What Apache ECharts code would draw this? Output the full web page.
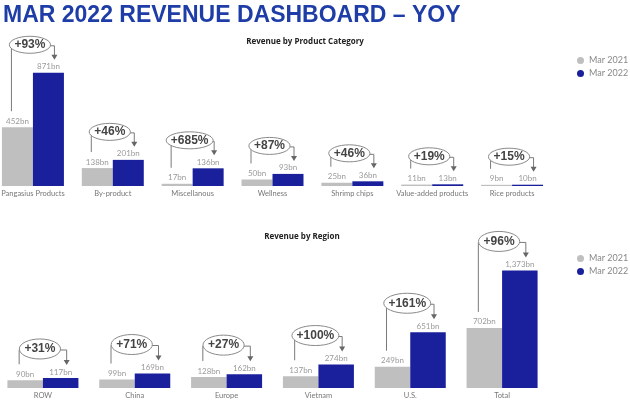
<!DOCTYPE html>
<html>
<head>
<meta charset="utf-8">
<script src="https://cdn.jsdelivr.net/npm/echarts@6/dist/echarts.min.js"></script>
<style>html,body{margin:0;padding:0;background:#fff;}#chart{width:630px;height:401px;}</style>
</head>
<body>
<div id="chart"></div>
<script>
const productCategories = ['Pangasius Products','By-product','Miscellanous','Wellness','Shrimp chips','Value-added products','Rice products'];
const product2021 = [452,138,17,50,25,11,9];
const product2022 = [871,201,136,93,36,13,10];
const productGrowth = ['+93%','+46%','+685%','+87%','+46%','+19%','+15%'];

const regionCategories = ['ROW','China','Europe','Vietnam','U.S.','Total'];
const region2021 = [90,99,128,137,249,702];
const region2022 = [117,169,162,274,651,1373];
const regionGrowth = ['+31%','+71%','+27%','+100%','+161%','+96%'];

const GREY = '#bfbfbf', BLUE = '#1a1f9c';
const SMALL_FONT = 'Lato';

function fmt(v){ return v.toLocaleString('en-US') + 'bn'; }

function annotation(xi, yi, barW, growth, v1, v2, levelOff, ry){
  return {
    type: 'custom',
    xAxisIndex: xi, yAxisIndex: yi,
    silent: true, z: 10,
    data: v1.map((v, i) => [i, v, v2[i]]),
    encode: {x: 0, y: 2},
    renderItem: function(params, api){
      const idx = api.value(0);
      const g = api.coord([idx, api.value(1)]);
      const b = api.coord([idx, api.value(2)]);
      const cx0 = g[0];
      const lx = cx0 - barW/2 - 6;
      const rx = cx0 + barW/2 + 6;
      const greyTop = g[1], blueTop = b[1];
      const level = blueTop - levelOff;
      const tip = blueTop - 13;
      const txt = growth[params.dataIndex];
      const erx = 9 + txt.length * 2.9;
      const ecx = (lx + rx)/2 - 3;
      return {
        type: 'group',
        children: [
          {type: 'polyline', shape: {points: [[lx, greyTop - 16],[lx, level],[rx, level],[rx, tip - 4]]},
           style: {stroke: '#7a7a7a', lineWidth: 1, fill: null}},
          {type: 'polygon', shape: {points: [[rx-3, tip-5],[rx+3, tip-5],[rx, tip]]}, style: {fill: '#666'}},
          {type: 'ellipse', shape: {cx: ecx, cy: level - 1, rx: erx, ry: ry},
           style: {fill: '#fff', stroke: '#8a8a8a', lineWidth: 1}},
          {type: 'text', style: {text: txt, x: ecx, y: level - 1, align: 'center', verticalAlign: 'middle',
            font: 'bold 12px "Liberation Sans", Arial, sans-serif', fill: '#444'}}
        ]
      };
    }
  };
}

function barSeries(name, color, data, xi, yi, barW){
  return {
    name: name, type: 'bar', xAxisIndex: xi, yAxisIndex: yi,
    data: data, barWidth: barW, barGap: '0%',
    itemStyle: {color: color},
    label: {show: true, position: 'top', distance: 2, color: '#9a9a9a', fontSize: 8, fontFamily: SMALL_FONT,
      formatter: p => fmt(p.value)}
  };
}

const catAxis = (gi, cats) => ({
  type: 'category', gridIndex: gi, data: cats,
  axisLine: {show: false}, axisTick: {show: false},
  axisLabel: {color: '#777', fontSize: 7.5, fontFamily: SMALL_FONT, margin: 4, interval: 0}
});
const valAxis = (gi, max) => ({
  type: 'value', gridIndex: gi, min: 0, max: max, show: false, splitLine: {show: false}
});

const legendBase = {
  orient: 'vertical', icon: 'circle', itemWidth: 7, itemHeight: 7, itemGap: 4, padding: 0,
  textStyle: {color: '#888', fontSize: 9, fontFamily: SMALL_FONT},
  data: ['Mar 2021', 'Mar 2022']
};

const option = {
  animation: false,
  backgroundColor: '#fff',
  title: [
    {text: 'Revenue by Product Category', left: 300, top: 33, textAlign: 'center',
     textStyle: {fontSize: 8, fontWeight: 'bold', color: '#222', fontFamily: 'Open Sans'}},
    {text: 'Revenue by Region', left: 297, top: 228, textAlign: 'center',
     textStyle: {fontSize: 8, fontWeight: 'bold', color: '#222', fontFamily: 'Open Sans'}}
  ],
  graphic: [
    {type: 'text', left: 3, top: 4, style: {text: 'MAR 2022 REVENUE DASHBOARD \u2013 YOY',
      font: 'bold 23px "Liberation Sans", Arial, sans-serif', fill: '#1f3da6'}}
  ],
  legend: [
    Object.assign({}, legendBase, {left: 577, top: 56}),
    Object.assign({}, legendBase, {left: 577, top: 254})
  ],
  grid: [
    {left: -7, width: 559, top: 56, height: 130, outerBoundsMode: 'none', containLabel: false},
    {left: -3, width: 551, top: 251, height: 137, outerBoundsMode: 'none', containLabel: false}
  ],
  xAxis: [catAxis(0, productCategories), catAxis(1, regionCategories)],
  yAxis: [valAxis(0, 1000), valAxis(1, 1600)],
  series: [
    barSeries('Mar 2021', GREY, product2021, 0, 0, 31),
    barSeries('Mar 2022', BLUE, product2022, 0, 0, 31),
    barSeries('Mar 2021', GREY, region2021, 1, 1, 35.5),
    barSeries('Mar 2022', BLUE, region2022, 1, 1, 35.5),
    annotation(0, 0, 31, productGrowth, product2021, product2022, 27, 8.5),
    annotation(1, 1, 35.5, regionGrowth, region2021, region2022, 28, 10)
  ]
};

const chart = echarts.init(document.getElementById('chart'));
chart.setOption(option);
</script>
</body>
</html>
